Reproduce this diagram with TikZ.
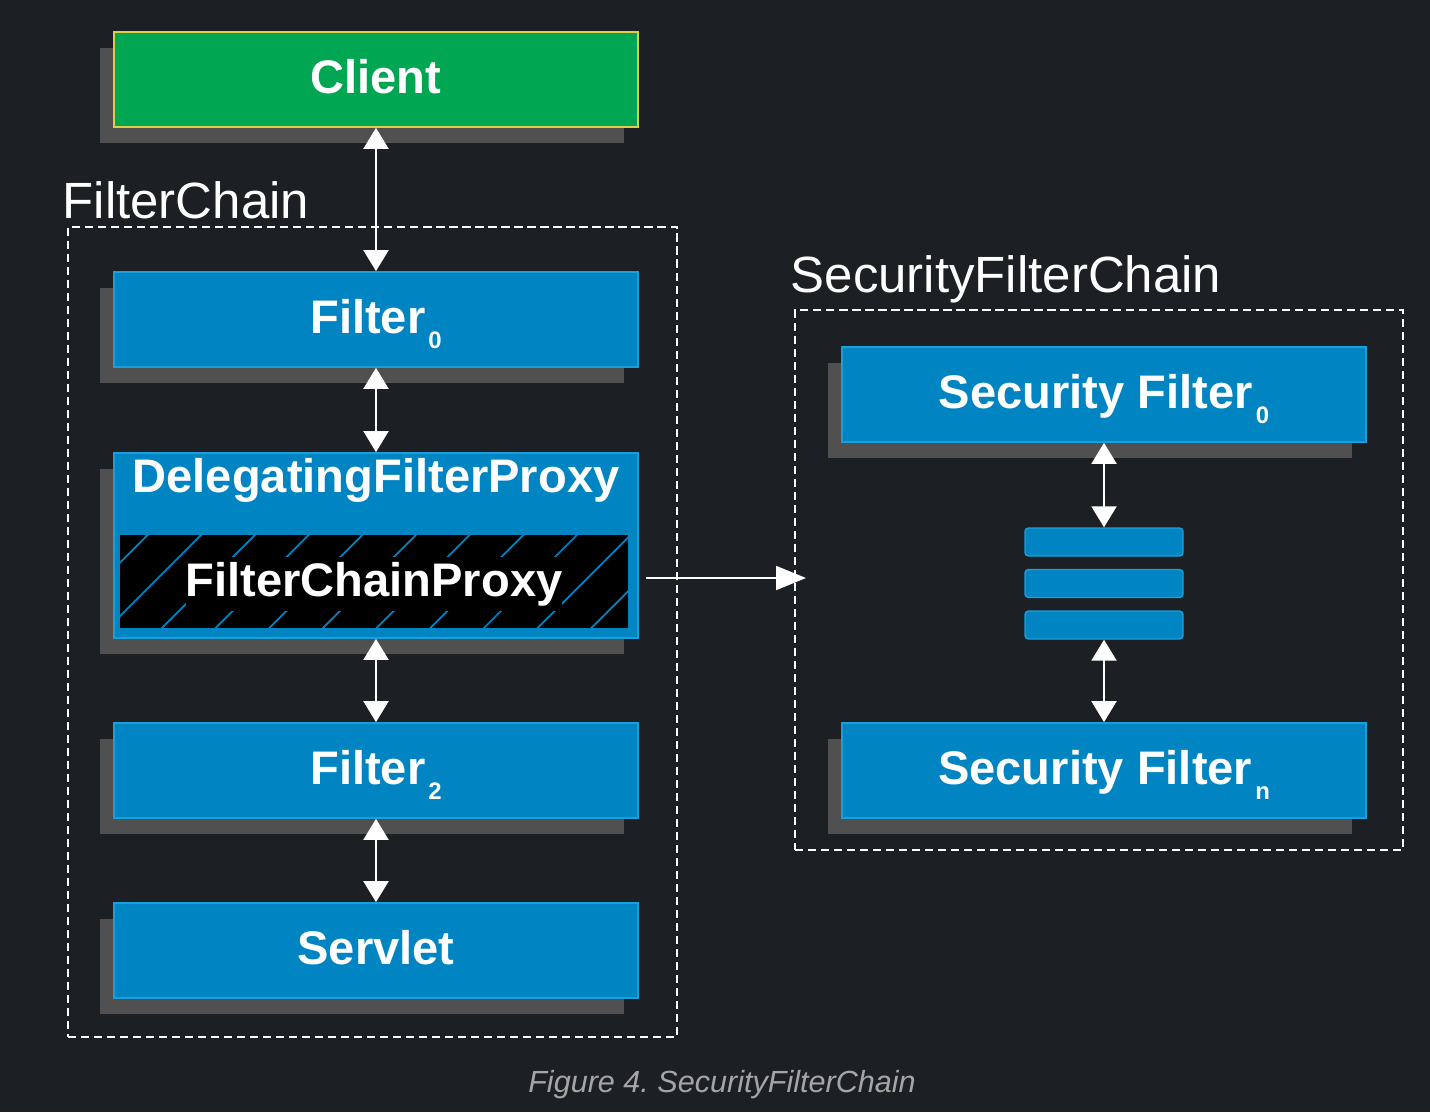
\documentclass[tikz,border=0pt]{standalone}
\usepackage{fontspec}
\setmainfont{Liberation Sans}
\usetikzlibrary{arrows.meta,patterns.meta}
\definecolor{bgdark}{RGB}{28,31,35}
\definecolor{shadowgray}{RGB}{80,80,80}
\definecolor{boxblue}{RGB}{0,133,194}
\definecolor{boxedge}{RGB}{24,160,222}
\definecolor{clientgreen}{RGB}{0,166,81}
\definecolor{clientedge}{RGB}{222,205,70}
\definecolor{captiongray}{RGB}{165,165,165}
\frenchspacing
\newcommand{\subidx}[1]{\kern0.03cm\raisebox{-0.15cm}{\fontsize{6.8}{7}\selectfont #1}}
\tikzset{
  boxfont/.style={font=\fontsize{13.4}{16}\selectfont\bfseries, text=white},
  card/.style={boxfont, fill=boxblue, draw=boxedge, line width=0.5pt,
    minimum width=5.24cm, minimum height=0.95cm, inner sep=0pt,
    text height=0.28cm, text depth=0cm,
    preaction={fill=shadowgray, transform canvas={xshift=-0.14cm, yshift=-0.16cm}}},
  bar/.style={fill=boxblue, draw=boxedge, line width=0.4pt, rounded corners=1pt,
    minimum width=1.58cm, minimum height=0.28cm, inner sep=0pt},
  group/.style={draw=white, line width=0.6pt, dash pattern=on 2.3pt off 1.4pt, inner sep=0pt},
  grouplabel/.style={font=\fontsize{14.5}{17}\selectfont, text=white, inner sep=0pt, anchor=base west},
  flow/.style={{Triangle[width=0.25cm,length=0.21cm]}-{Triangle[width=0.25cm,length=0.21cm]}, draw=white, line width=0.6pt},
  handoff/.style={-{Triangle[width=0.24cm,length=0.30cm]}, draw=white, line width=0.6pt}
}
\begin{document}
\begin{tikzpicture}
  \fill[bgdark] (0,0) rectangle (14.3,-11.12);
  \node[group, minimum width=6.09cm, minimum height=8.10cm] (fchain) at (3.725,-6.32) {};
  \node[grouplabel] (fchainlabel) at (0.62,-2.19) {FilterChain};
  \node[group, minimum width=6.08cm, minimum height=5.40cm] (sfchain) at (10.99,-5.80) {};
  \node[grouplabel] (sfchainlabel) at (7.90,-2.92) {SecurityFilterChain};

  \node[card, fill=clientgreen, draw=clientedge] (client) at (3.76,-0.795) {Client};
  \node[card] (f0) at (3.76,-3.195) {Filter\subidx{0}};
  \node[card, minimum height=1.85cm] (dfp) at (3.76,-5.455) {};
  \node[boxfont, inner sep=0pt, text height=0.28cm, text depth=0cm] (dfplabel) at (3.76,-4.78) {DelegatingFilterProxy};
  \node[fill=black, minimum width=5.08cm, minimum height=0.93cm, inner sep=0pt,
    postaction={pattern={Lines[angle=45,distance=10.8pt,line width=0.5pt]}, pattern color=boxblue}] (fcp) at (3.74,-5.815) {};
  \node[boxfont, fill=black, inner xsep=0pt, inner ysep=0.05cm, anchor=base] (fcplabel) at (3.74,-5.96) {FilterChainProxy};
  \node[card] (f2) at (3.76,-7.705) {Filter\subidx{2}};
  \node[card] (servlet) at (3.76,-9.505) {Servlet};

  \node[card] (sf0) at (11.04,-3.945) {Security Filter\subidx{0}};
  \foreach \i/\y in {1/5.42,2/5.835,3/6.25}
    \node[bar] (bar\i) at (11.04,-\y) {};
  \node[card] (sfn) at (11.04,-7.705) {Security Filter\subidx{n}};

  \draw[flow] (client.south) -- (f0.north);
  \draw[flow] (f0.south) -- (dfp.north);
  \draw[flow] (dfp.south) -- (f2.north);
  \draw[flow] (f2.south) -- (servlet.north);
  \draw[flow] (sf0.south) -- (bar1.north);
  \draw[flow] (bar3.south) -- (sfn.north);
  \coordinate (proxyout) at (6.46,-5.78);
  \coordinate (chainin) at (8.06,-5.78);
  \draw[handoff] (proxyout) -- (chainin);

  \node[font=\fontsize{8.7}{10}\selectfont\itshape, text=captiongray, inner sep=0pt, anchor=base] (caption) at (7.22,-10.92) {Figure 4. SecurityFilterChain};
\end{tikzpicture}
\end{document}
